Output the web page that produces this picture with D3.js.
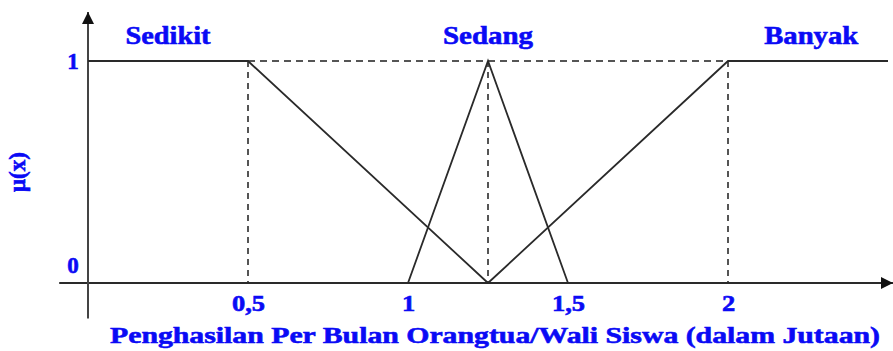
<!DOCTYPE html>
<html>
<head>
<meta charset="utf-8">
<script src="https://cdn.jsdelivr.net/npm/d3@7"></script>
<style>
  html, body { margin: 0; padding: 0; background: #fff; }
  #chart { width: 893px; height: 351px; }
</style>
</head>
<body>
<div id="chart"></div>
<script>
// ── DATA ────────────────────────────────────────────────────────────────────
// Membership functions for parent/guardian monthly income (in millions)
const sedikit = [[0, 1], [0.5, 1], [1.25, 0]];
const sedang  = [[1, 0], [1.25, 1], [1.5, 0]];
const banyak  = [[1.25, 0], [2, 1], [2.5, 1]];

const setNames  = ["Sedikit", "Sedang", "Banyak"];
const setLabelX = [0.25, 1.25, 2.26];

const guideX     = [0.5, 1.25, 2];          // dashed verticals
const xTicks     = [0.5, 1, 1.5, 2];
const xTickText  = ["0,5", "1", "1,5", "2"];
const yTicks     = [0, 1];
const yTickText  = ["0", "1"];

const xTitle = "Penghasilan Per Bulan Orangtua/Wali Siswa (dalam Jutaan)";
const yTitle = "μ(x)";

// ── LAYOUT ──────────────────────────────────────────────────────────────────
const W = 893, H = 351;
const BLUE = "#0a0af5";
const INK  = "#2a2a2a";
const FONT = "'Liberation Serif', 'Times New Roman', serif";

const x = d3.scaleLinear().domain([0, 2.5]).range([88, 888]);
const y = d3.scaleLinear().domain([0, 1]).range([283, 61]);

const svg = d3.select("#chart").append("svg")
  .attr("width", W).attr("height", H)
  .style("display", "block");

svg.append("rect").attr("width", W).attr("height", H).attr("fill", "#fff");

// arrow head for the axes
svg.append("defs").append("marker")
  .attr("id", "arrow")
  .attr("viewBox", "0 0 10 10")
  .attr("refX", 10).attr("refY", 5)
  .attr("markerWidth", 13).attr("markerHeight", 12)
  .attr("markerUnits", "userSpaceOnUse")
  .attr("orient", "auto")
  .append("path")
  .attr("d", "M0,0 L10,5 L0,10 Z")
  .attr("fill", "#111");

// bold-ish blue text, a bit heavier than the plain bold face
const blueText = sel => sel
  .attr("fill", BLUE)
  .attr("stroke", BLUE)
  .attr("stroke-width", 0.6)
  .attr("font-family", FONT)
  .attr("font-weight", "bold");

// ── GUIDES (dashed) ─────────────────────────────────────────────────────────
svg.append("line")
  .attr("x1", x(0.5)).attr("x2", x(2))
  .attr("y1", y(1)).attr("y2", y(1))
  .attr("stroke", "#555").attr("stroke-width", 2)
  .attr("stroke-dasharray", "7 5");

svg.selectAll(".guide")
  .data(guideX)
  .join("line")
  .attr("class", "guide")
  .attr("x1", d => x(d)).attr("x2", d => x(d))
  .attr("y1", y(1)).attr("y2", y(0))
  .attr("stroke", "#555").attr("stroke-width", 2)
  .attr("stroke-dasharray", "6 5");

// ── AXES ────────────────────────────────────────────────────────────────────
svg.append("line")
  .attr("x1", x(-0.09)).attr("x2", W)
  .attr("y1", y(0)).attr("y2", y(0))
  .attr("stroke", INK).attr("stroke-width", 2)
  .attr("marker-end", "url(#arrow)");

svg.append("line")
  .attr("x1", x(0)).attr("x2", x(0))
  .attr("y1", y(-0.16)).attr("y2", 12)
  .attr("stroke", "#444").attr("stroke-width", 2)
  .attr("marker-end", "url(#arrow)");

const xAxis = d3.axisBottom(x)
  .tickValues(xTicks)
  .tickFormat((d, i) => xTickText[i])
  .tickSize(0)
  .tickPadding(12);

svg.append("g")
  .attr("transform", `translate(0,${y(0)})`)
  .call(xAxis)
  .call(ax => ax.select(".domain").remove())
  .call(ax => ax.selectAll(".tick text")
    .call(blueText)
    .attr("font-size", "23px")
    .attr("transform", "scale(1.15,1)"));

svg.selectAll(".ytick")
  .data(yTicks)
  .join("text")
  .attr("class", "ytick")
  .attr("x", 73)
  .attr("y", d => d === 0 ? y(0) - 18 : y(d))
  .attr("dy", "0.35em")
  .attr("text-anchor", "middle")
  .call(blueText)
  .attr("font-size", "23px")
  .text((d, i) => yTickText[i]);

// ── MEMBERSHIP LINES ────────────────────────────────────────────────────────
const line = d3.line().x(d => x(d[0])).y(d => y(d[1]));

[sedikit, sedang, banyak].forEach(pts => {
  svg.append("path")
    .datum(pts)
    .attr("fill", "none")
    .attr("stroke", INK)
    .attr("stroke-width", 1.8)
    .attr("d", line);
});

// ── LABELS ──────────────────────────────────────────────────────────────────
const labelWidth = [85, 90, 94];
svg.selectAll(".setlabel")
  .data(setNames)
  .join("text")
  .attr("class", "setlabel")
  .attr("x", (d, i) => x(setLabelX[i]) - labelWidth[i] / 2)
  .attr("y", 44)
  .call(blueText)
  .attr("font-size", "26px")
  .attr("textLength", (d, i) => labelWidth[i])
  .attr("lengthAdjust", "spacingAndGlyphs")
  .text(d => d);

svg.append("text")
  .attr("x", 110)
  .attr("y", 343)
  .call(blueText)
  .attr("font-size", "24px")
  .attr("textLength", 770)
  .attr("lengthAdjust", "spacingAndGlyphs")
  .text(xTitle);

svg.append("text")
  .attr("transform", "translate(25,172) rotate(-90)")
  .attr("text-anchor", "middle")
  .call(blueText)
  .attr("font-size", "23px")
  .text(yTitle);
</script>
</body>
</html>
